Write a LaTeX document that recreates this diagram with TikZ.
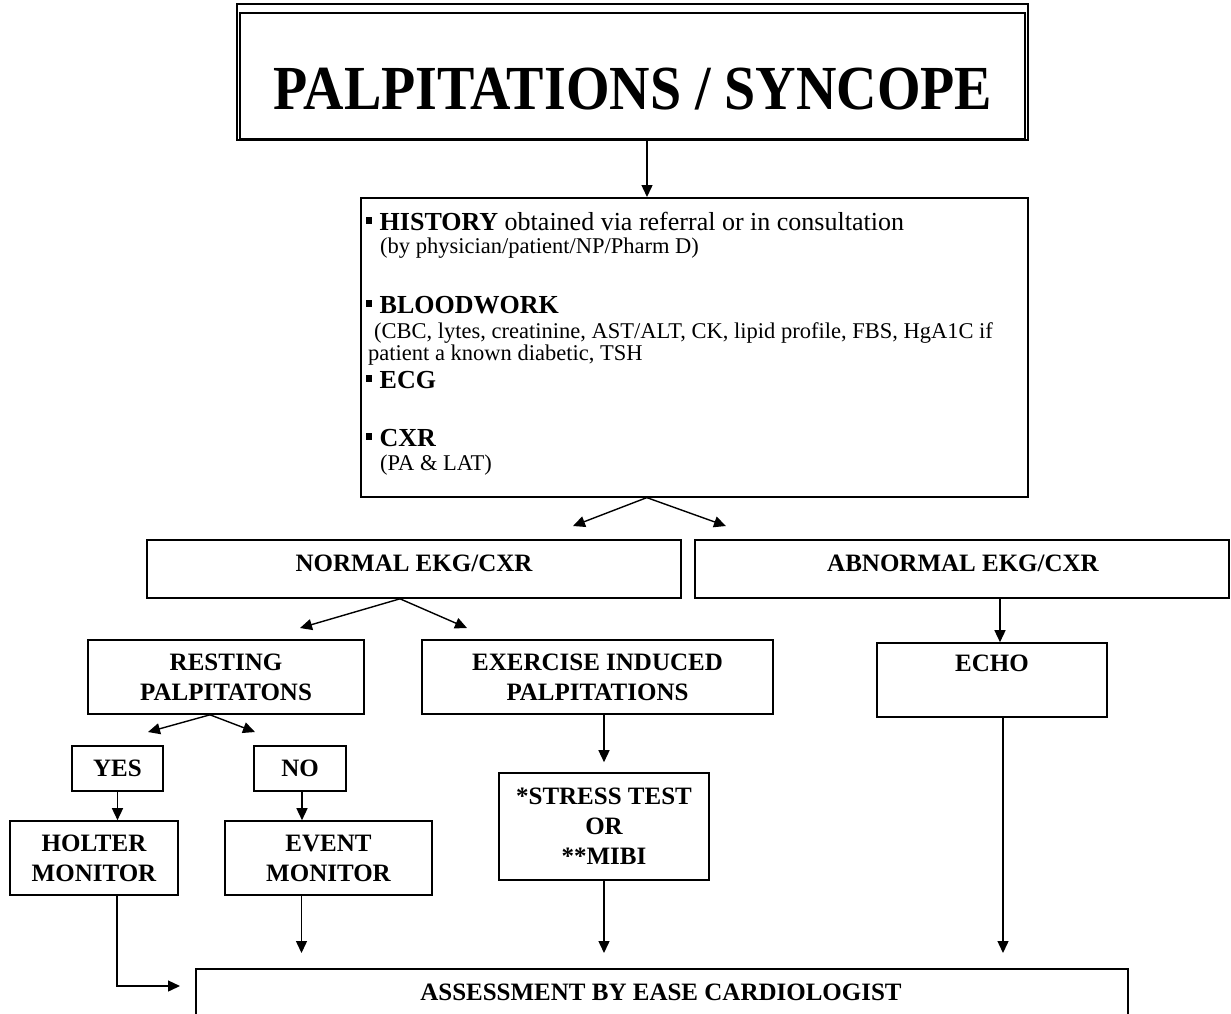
\documentclass[tikz,border=0pt]{standalone}
\usepackage{fontspec}
\usepackage{graphicx}
\setmainfont{Liberation Serif}
\usetikzlibrary{arrows.meta,calc}

\newcommand\lblfont{\bfseries\fontsize{25}{30}\selectfont}
\newcommand\headfont{\fontsize{26}{30}\selectfont}
\newcommand\notefont{\fontsize{22.5}{26}\selectfont}
\newcommand\sqb{\raisebox{0.25em}{\rule{5.5pt}{6.5pt}}\hspace{8pt}}

\tikzset{
  box/.style={draw, line width=1.6pt, inner sep=0pt, align=center, font=\lblfont},
  lbl/.style={inner sep=0pt, align=center, font=\lblfont},
  arr/.style={line width=1.4pt, -{Triangle[length=12pt,width=11pt]}},
  htext/.style={anchor=base west, inner sep=0pt},
}

\begin{document}
\begin{tikzpicture}[x=1pt,y=-1pt]
\useasboundingbox (0,0) rectangle (1231,1013);
\fill[white] (0,0) rectangle (1231,1013);
\clip (0,0) rectangle (1231,1013);

% title with its double frame
\node[box, minimum width=791, minimum height=136] (title) at (632.5,72) {};
\draw[line width=1.6pt] ($(title.north west)+(4,10)$) rectangle ($(title.south east)+(-4,-2)$);
\node[lbl] (titletext) at (633,89)
  {\scalebox{1}[1.12]{\bfseries\fontsize{56}{60}\selectfont PALPITATIONS / SYNCOPE}};

% initial work-up
\node[box, minimum width=667, minimum height=299, anchor=north west] (hist) at (360,197) {};
\node[htext] (h1) at (366,230) {\headfont\sqb\textbf{HISTORY} obtained via referral or in consultation};
\node[htext] (h2) at (380,253) {\notefont(by physician/patient/NP/Pharm D)};
\node[htext] (h3) at (366,313) {\headfont\sqb\textbf{BLOODWORK}};
\node[htext] (h4) at (374,338) {\notefont(CBC, lytes, creatinine, AST/ALT, CK, lipid profile, FBS, HgA1C if};
\node[htext] (h5) at (368,360) {\notefont patient a known diabetic, TSH};
\node[htext] (h6) at (366,388) {\headfont\sqb\textbf{ECG}};
\node[htext] (h7) at (366,446) {\headfont\sqb\textbf{CXR}};
\node[htext] (h8) at (380,470) {\notefont(PA \& LAT)};

% results
\node[box, minimum width=534, minimum height=58] (normal) at (414,569) {};
\node[lbl] (normaltext) at (414,563) {NORMAL EKG/CXR};
\node[box, minimum width=534, minimum height=58] (abnormal) at (962,569) {};
\node[lbl] (abnormaltext) at (963,563) {ABNORMAL EKG/CXR};

% second level
\node[box, minimum width=276, minimum height=74] (resting) at (226,677) {RESTING\\PALPITATONS};
\node[box, minimum width=351, minimum height=74] (exercise) at (597.5,677) {EXERCISE INDUCED\\PALPITATIONS};
\node[box, minimum width=230, minimum height=74] (echo) at (992,680) {};
\node[lbl] (echotext) at (992,663) {ECHO};

% resting branch
\node[box, minimum width=91, minimum height=45] (yes) at (117.5,768.5) {YES};
\node[box, minimum width=92, minimum height=45] (no) at (300,768.5) {NO};
\node[box, minimum width=168, minimum height=74] (holter) at (94,858) {HOLTER\\MONITOR};
\node[box, minimum width=207, minimum height=74] (event) at (328.5,858) {EVENT\\MONITOR};

% exercise branch
\node[box, minimum width=210, minimum height=107] (stress) at (604,826.5) {*STRESS TEST\\OR\\**MIBI};

% final assessment
\node[box, minimum width=932, minimum height=80, anchor=north west] (assess) at (195,968) {};
\node[lbl] (assesstext) at (661,992) {ASSESSMENT BY EASE CARDIOLOGIST};

% free arrow ends
\coordinate (tipN) at (573,526);
\coordinate (tipA) at (726,526);
\coordinate (tipR) at (300,628);
\coordinate (tipE) at (467,628);
\coordinate (tipY) at (148,732);
\coordinate (tipNo) at (255,732);

% connectors
\draw[arr] ($(title.south)+(14.5,0)$) -- ($(title.south |- hist.north)+(14.5,0)$);
\draw[arr] ($(hist.south)+(-47.5,0)$) -- (tipN);
\draw[arr] ($(hist.south)+(-47.5,0)$) -- (tipA);
\draw[arr] ($(normal.south)+(-14,0)$) -- (tipR);
\draw[arr] ($(normal.south)+(-14,0)$) -- (tipE);
\draw[arr] ($(echo.north |- abnormal.south)+(8,0)$) -- ($(echo.north)+(8,0)$);
\draw[arr] ($(resting.south)+(-16,0)$) -- (tipY);
\draw[arr] ($(resting.south)+(-16,0)$) -- (tipNo);
\draw[arr] (yes.south) -- (yes.south |- holter.north);
\draw[arr] ($(no.south)+(2,0)$) -- ($(no.south |- event.north)+(2,0)$);
\draw[arr] (stress.north |- exercise.south) -- ($(stress.north)+(0,-10)$);
\draw[arr] (stress.south) -- ($(stress.south |- assess.north)+(0,-15)$);
\draw[arr] ($(event.south)+(-27,0)$) -- ($(event.south |- assess.north)+(-27,-15)$);
\draw[arr] ($(echo.south)+(11,0)$) -- ($(echo.south |- assess.north)+(11,-15)$);
\draw[arr] ($(holter.south)+(23,0)$) |- ($(assess.north west)+(-15,18)$);
\end{tikzpicture}
\end{document}
